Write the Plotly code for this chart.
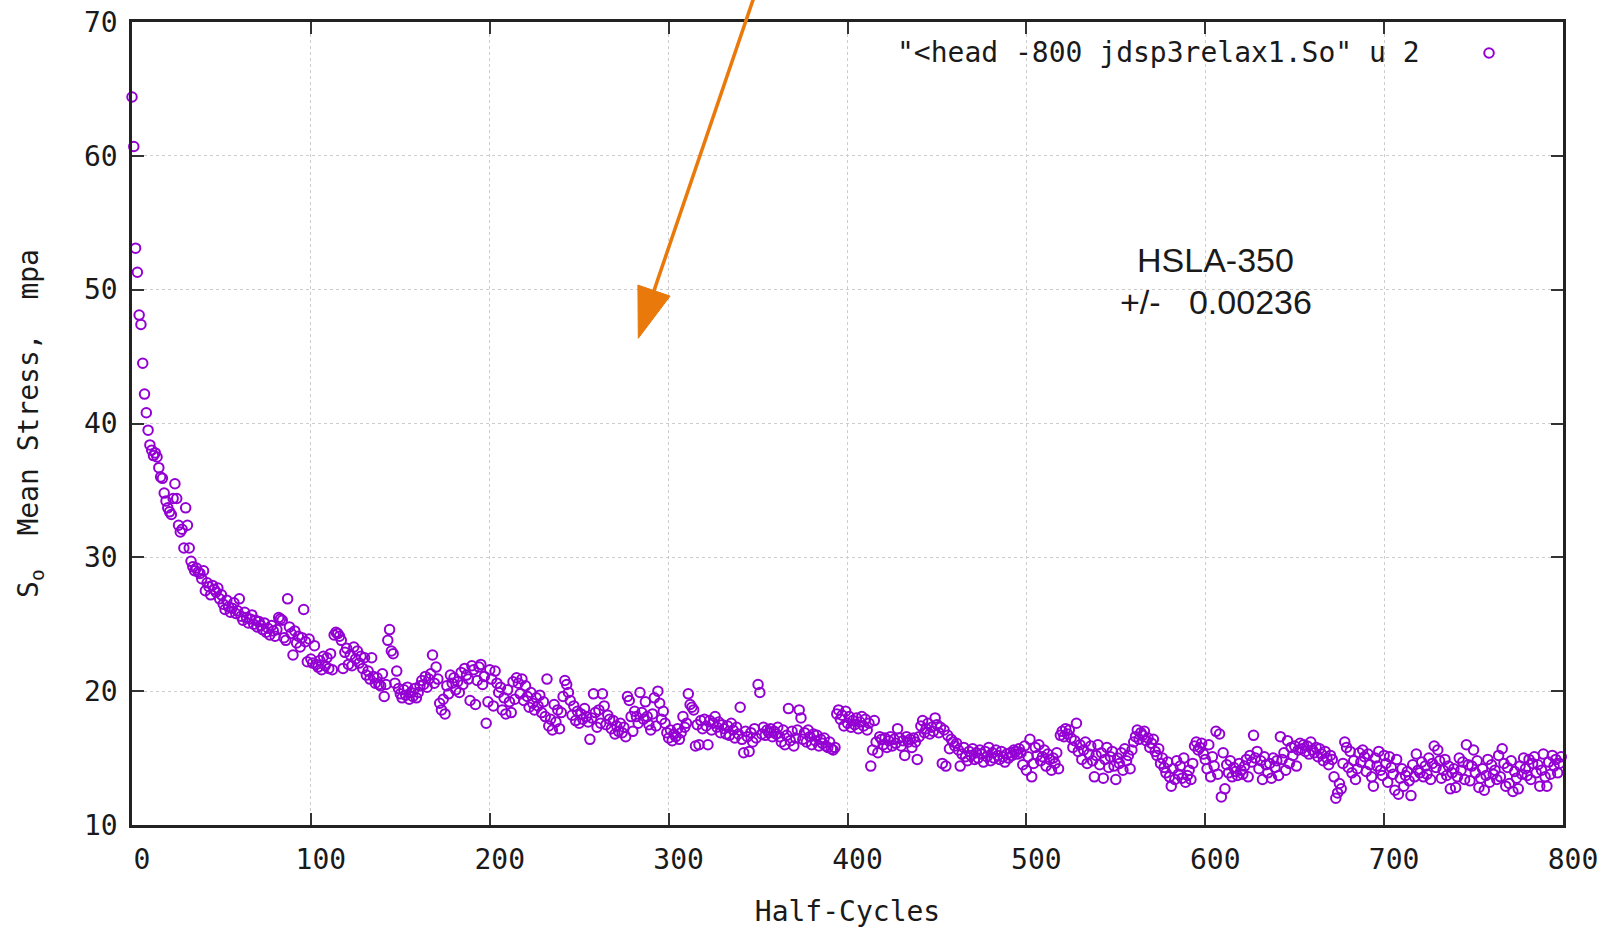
import plotly.graph_objects as go

# Mean stress (MPa) per half-cycle, read in four blocks of 200 half-cycles
stress_000_199 = [
    64.4, 60.7, 53.1, 51.3, 48.1, 47.4, 44.5, 42.2, 40.8, 39.5,
    38.4, 38.0, 37.6, 37.8, 37.5, 36.7, 36.0, 35.9, 34.8, 34.2,
    33.7, 33.4, 33.2, 34.4, 35.5, 34.4, 32.4, 31.9, 32.1, 30.7,
    33.7, 32.4, 30.7, 29.7, 29.3, 29.0, 29.2, 28.9, 28.8, 28.4,
    29.0, 27.5, 28.1, 27.8, 27.2, 27.9, 27.6, 27.4, 27.7, 26.9,
    27.2, 26.5, 26.1, 26.8, 26.3, 25.9, 26.2, 26.6, 25.8, 26.0,
    26.9, 25.6, 25.3, 25.9, 25.5, 25.1, 25.4, 25.7, 25.0, 25.3,
    24.8, 25.2, 24.9, 24.6, 25.1, 24.4, 24.7, 24.2, 24.9, 24.5,
    24.1, 24.6, 25.5, 25.4, 25.3, 24.0, 23.8, 26.9, 24.8, 24.3,
    22.7, 24.5, 23.6, 24.1, 23.3, 24.0, 26.1, 23.7, 22.2, 23.9,
    22.4, 22.1, 23.4, 22.0, 21.8, 22.3, 21.6, 22.6, 21.9, 22.5,
    21.7, 22.8, 21.6, 24.2, 24.4, 24.3, 24.1, 23.8, 21.7, 22.9,
    23.2, 22.0, 22.7, 21.9, 23.3, 22.4, 23.0, 22.1, 22.6, 21.7,
    22.5, 21.2, 21.5, 20.9, 22.5, 21.1, 20.6, 21.0, 20.5, 20.4,
    21.3, 19.6, 20.5, 23.8, 24.6, 23.0, 22.8, 20.6, 21.5, 20.2,
    19.8, 19.5, 20.1, 19.7, 20.3, 19.4, 19.9, 19.6, 20.2, 19.5,
    19.9, 20.4, 20.8, 20.5, 21.1, 20.3, 20.9, 21.3, 22.7, 20.6,
    21.8, 20.9, 19.1, 18.6, 19.4, 18.3, 20.4, 19.8, 21.2, 20.6,
    21.0, 20.1, 20.7, 19.9, 21.4, 20.5, 21.7, 21.2, 20.9, 19.3,
    21.9, 21.6, 19.0, 20.8, 21.8, 22.0, 20.5, 21.1, 17.6, 19.2,
]

stress_200_399 = [
    21.6, 20.9, 18.9, 21.5, 20.6, 19.9, 20.3, 18.6, 19.5, 18.3,
    20.1, 19.2, 18.4, 20.7, 19.4, 21.0, 20.6, 19.8, 20.9, 19.3,
    20.4, 19.6, 18.8, 19.9, 19.1, 18.6, 19.5, 18.9, 19.7, 18.4,
    19.2, 18.1, 20.9, 17.4, 17.9, 17.1, 19.0, 17.7, 18.6, 17.2,
    18.4, 19.6, 20.8, 20.5, 19.9, 19.3, 18.2, 18.9, 17.8, 18.5,
    17.6, 18.3, 17.9, 18.7, 18.1, 17.7, 16.4, 18.0, 19.8, 18.4,
    17.3, 18.6, 17.6, 19.8, 18.9, 17.5, 18.2, 17.9, 17.2, 17.8,
    16.8, 17.4, 17.0, 17.6, 16.9, 17.3, 16.6, 19.6, 19.3, 18.1,
    17.0, 18.5, 18.1, 17.6, 19.9, 18.4, 17.9, 19.2, 18.1, 17.5,
    17.1, 18.3, 19.5, 17.4, 20.0, 19.1, 17.9, 18.5, 17.6, 16.9,
    16.5, 17.1, 16.3, 16.8, 16.6, 17.2, 16.4, 16.9, 18.1, 17.3,
    17.6, 19.8, 19.0, 18.8, 18.6, 15.9, 17.5, 16.0, 17.8, 17.2,
    17.9, 17.4, 16.0, 17.8, 17.1, 17.6, 18.1, 17.3, 17.7, 16.9,
    17.5, 17.2, 16.8, 17.4, 16.7, 17.6, 17.1, 16.5, 17.3, 16.8,
    18.8, 16.4, 15.4, 17.0, 16.6, 15.5, 16.9, 16.2, 17.2, 16.5,
    20.5, 19.9, 16.8, 17.3, 16.7, 17.1, 16.9, 17.2, 16.6, 17.0,
    16.8, 17.3, 16.6, 16.2, 17.1, 16.0, 16.7, 18.7, 16.3, 17.0,
    15.9, 16.5, 17.1, 18.6, 18.0, 16.4, 16.9, 16.2, 17.1, 16.6,
    16.0, 16.8, 16.3, 16.7, 15.9, 16.4, 16.1, 16.5, 15.9, 15.8,
    16.2, 15.7, 15.6, 15.8, 18.3, 18.6, 17.9, 18.2, 17.4, 18.5,
]

stress_400_599 = [
    17.6, 18.1, 17.3, 17.8, 17.5, 18.0, 17.2, 17.7, 18.1, 17.4,
    17.9, 17.1, 17.6, 14.4, 15.6, 17.8, 16.2, 15.4, 16.6, 16.4,
    16.0, 16.5, 15.8, 16.3, 16.6, 15.9, 16.4, 16.1, 17.2, 16.5,
    15.9, 16.3, 15.2, 16.6, 16.2, 16.4, 15.8, 16.5, 16.2, 14.9,
    16.6, 17.4, 17.8, 16.9, 17.2, 17.6, 16.8, 17.3, 17.0, 18.0,
    17.5, 16.9, 17.3, 14.6, 17.1, 14.4, 16.7, 15.7, 16.4, 16.2,
    15.9, 16.1, 15.6, 14.4, 15.3, 15.8, 15.1, 14.8, 15.5, 15.2,
    15.7, 14.9, 15.4, 15.0, 15.6, 15.3, 14.7, 15.5, 15.1, 15.8,
    14.8, 15.4, 15.0, 15.6, 15.2, 14.9, 15.5, 15.1, 14.7, 15.3,
    15.0, 15.4, 15.2, 15.6, 15.5, 15.3, 15.7, 15.4, 14.5, 15.9,
    14.1, 15.1, 16.4, 13.6, 14.6, 15.8, 15.2, 16.0, 14.8, 15.1,
    15.6, 14.4, 15.3, 14.9, 14.1, 15.0, 14.6, 15.4, 14.2, 16.7,
    17.0, 16.6, 17.2, 16.8, 17.1, 16.5, 15.8, 16.3, 17.6, 15.5,
    16.0, 14.9, 15.6, 16.2, 14.6, 15.3, 15.9, 14.8, 13.6, 15.2,
    16.0, 14.5, 15.4, 13.5, 14.9, 15.8, 14.3, 15.1, 15.5, 14.4,
    13.4, 15.0, 14.6, 15.4, 14.1, 15.7, 14.8, 15.2, 14.2, 15.6,
    16.2, 16.6, 17.1, 16.4, 16.9, 16.7, 17.0, 16.3, 16.5, 15.8,
    16.1, 16.4, 15.5, 15.2, 15.7, 14.6, 15.0, 14.3, 13.9, 14.7,
    13.6, 12.9, 14.2, 13.4, 14.8, 13.8, 14.4, 13.5, 15.0, 13.2,
    13.7, 14.1, 13.4, 14.6, 15.9, 16.2, 15.6, 15.8, 16.1, 15.3,
]

stress_600_799 = [
    14.9, 14.2, 16.0, 13.6, 15.1, 14.4, 17.0, 13.8, 16.8, 12.1,
    15.4, 12.7, 14.5, 13.9, 14.8, 13.6, 14.3, 14.0, 13.7, 14.6,
    14.1, 13.8, 14.4, 14.9, 13.6, 15.2, 14.7, 16.7, 15.0, 15.5,
    14.2, 14.8, 13.4, 15.1, 14.5, 13.9, 14.6, 13.5, 15.0, 14.3,
    14.8, 13.7, 16.6, 14.9, 15.4, 14.1, 16.3, 14.6, 15.8, 15.2,
    15.9, 14.4, 15.6, 16.1, 15.7, 16.0, 15.5, 15.9, 15.3, 16.2,
    15.6, 15.4, 15.8, 15.1, 15.7, 15.3, 14.8, 15.5, 15.0, 14.5,
    15.2, 14.9, 13.6, 12.0, 12.4, 13.1, 12.7, 14.6, 16.2, 15.8,
    14.3, 15.5, 13.9, 14.8, 13.4, 14.2, 15.4, 14.7, 15.6, 15.1,
    14.0, 15.3, 14.5, 13.6, 12.9, 15.0, 14.4, 15.5, 14.1, 13.7,
    15.2, 14.6, 13.2, 15.1, 14.3, 13.8, 12.6, 14.9, 12.3, 13.5,
    14.2, 12.9, 13.7, 14.0, 13.3, 12.2, 14.5, 13.6, 15.3, 14.1,
    13.9, 14.7, 13.6, 14.4, 13.8, 15.0, 13.4, 14.6, 15.9, 14.3,
    15.6, 14.8, 13.5, 14.1, 14.9, 13.7, 14.4, 12.7, 13.9, 14.2,
    12.8, 13.6, 15.0, 14.1, 14.7, 13.4, 16.0, 14.5, 13.3, 14.4,
    15.6, 13.9, 14.8, 12.8, 13.5, 14.2, 12.6, 13.7, 14.9, 13.2,
    14.5, 13.8, 14.1, 13.4, 15.2, 13.6, 15.7, 14.6, 12.9, 14.3,
    13.1, 14.8, 12.5, 14.0, 13.5, 12.7, 14.4, 13.8, 15.0, 14.2,
    13.7, 14.9, 13.4, 14.6, 15.1, 13.9, 14.5, 12.9, 14.1, 15.3,
    13.6, 12.9, 14.7, 13.8, 15.2, 14.4, 14.9, 13.9, 14.6, 15.1,
]

mean_stress = stress_000_199 + stress_200_399 + stress_400_599 + stress_600_799
half_cycles = list(range(len(mean_stress)))

x_ticks = [0, 100, 200, 300, 400, 500, 600, 700, 800]
y_ticks = [10, 20, 30, 40, 50, 60, 70]

legend_label = '"<head -800 jdsp3relax1.So" u 2'
material = "HSLA-350"
tolerance = "+/-\u00a0\u00a0\u00a00.00236"

PURPLE = "#9400d3"
ORANGE = "#e8790a"
INK = "#1a1a1a"
MONO = "DejaVu Sans Mono"

fig = go.Figure()
fig.add_trace(go.Scatter(
    x=half_cycles,
    y=mean_stress,
    mode="markers",
    marker=dict(symbol="circle-open", size=9.5, color=PURPLE,
                line=dict(width=2, color=PURPLE)),
    showlegend=False,
    cliponaxis=False,
))

axis_common = dict(
    automargin=False,
    showline=True, linecolor="#222222", linewidth=2.5, mirror="ticks",
    ticks="inside", ticklen=12, tickwidth=2, tickcolor="#333333",
    showgrid=True, gridcolor="#cdcdcd", griddash="dot", gridwidth=1.3,
    zeroline=False,
    tickfont=dict(family=MONO, size=28, color=INK),
)

fig.update_xaxes(
    range=[0, 800], tickvals=x_ticks, ticktext=[str(v) for v in x_ticks],
    ticklabelshift=10, ticklabelstandoff=8,
    title=dict(text="Half-Cycles", font=dict(family=MONO, size=28, color=INK), standoff=27),
    **axis_common,
)
fig.update_yaxes(
    range=[10, 70], tickvals=y_ticks, ticktext=[str(v) for v in y_ticks],
    ticklabelstandoff=6,
    title=dict(text="S<sub>o</sub>\u00a0\u00a0Mean Stress,\u00a0\u00a0mpa",
               font=dict(family=MONO, size=28, color=INK), standoff=38),
    **axis_common,
)

# Key: label text followed by the marker sample, gnuplot style
fig.add_annotation(xref="paper", yref="paper", x=0.9015, y=0.9614,
                   xanchor="right", yanchor="middle", showarrow=False,
                   text=legend_label, font=dict(family=MONO, size=28, color=INK))
fig.add_shape(type="circle", xref="paper", yref="paper",
              xsizemode="pixel", ysizemode="pixel",
              xanchor=0.9483, yanchor=0.9614, x0=-4.8, x1=4.8, y0=-4.8, y1=4.8,
              line=dict(color=PURPLE, width=2))

# Material label
fig.add_annotation(xref="paper", yref="paper", x=0.7575, y=0.7042,
                   xanchor="center", yanchor="middle", showarrow=False,
                   text=material, font=dict(family="Liberation Sans", size=34, color=INK))
fig.add_annotation(xref="paper", yref="paper", x=0.7575, y=0.6513,
                   xanchor="center", yanchor="middle", showarrow=False,
                   text=tolerance, font=dict(family="Liberation Sans", size=34, color=INK))

# Orange pointer arrow: shaft plus a long triangular head
fig.add_shape(type="line", xref="paper", yref="paper",
              x0=0.43634, y0=1.03985, x1=0.36478, y1=0.66550,
              line=dict(color=ORANGE, width=3.5))
fig.add_shape(type="path", xref="paper", yref="paper",
              path="M 0.35381 0.60610 L 0.35353 0.67235 L 0.37603 0.65866 Z",
              fillcolor=ORANGE, line=dict(color=ORANGE, width=1))

fig.update_layout(
    width=1620, height=929,
    margin=dict(l=132, r=57, t=22, b=104),
    plot_bgcolor="white", paper_bgcolor="white",
    font=dict(family=MONO, color=INK),
)

fig.write_html("out.html")
